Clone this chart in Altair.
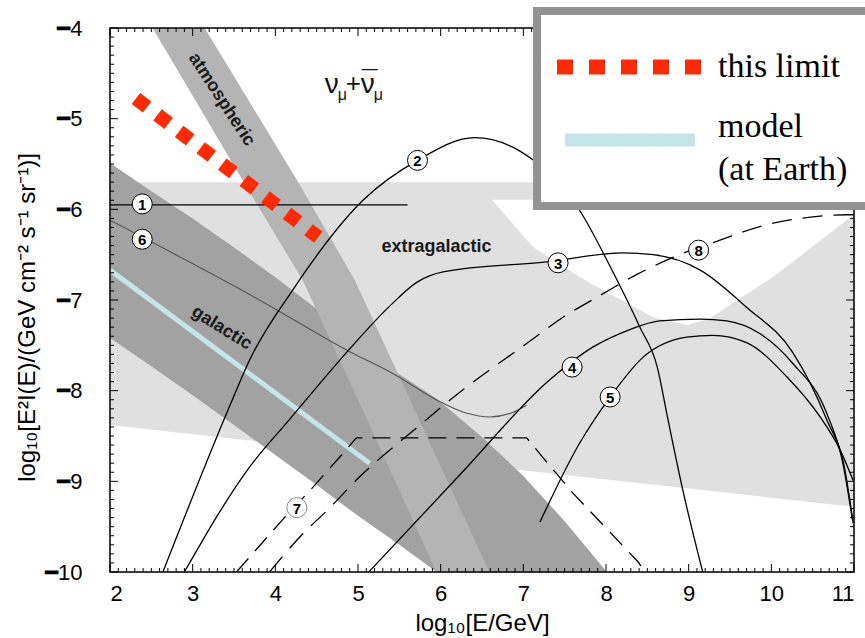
import altair as alt
import pandas as pd

# ---------------------------------------------------------------- layout
W, H = 744, 544
RED = "#ff2a00"
BLUE = "#c4e4e8"
LIGHT = "#e0e0e0"
ATM = "#b4b4b4"
DARK = "#a2a2a2"
FRAME_GRAY = "#939393"

# ---------------------------------------------------------------- shaded regions
# extragalactic band (light gray)
egal_x = [2.0, 11.0]
egal_lo = [-8.38, -9.28]
egal_hi = [-5.70, -5.70]

# white notch cut into the extragalactic band
notch_x = [6.62, 7.115, 7.684, 7.84, 8.25, 8.57, 8.99, 9.26, 9.54, 10.02, 10.92, 11.0]
notch_lo = [-5.895, -6.414, -6.745, -6.833, -7.03, -7.19, -7.275, -7.20, -7.03, -6.745, -6.116, -6.08]
notch_hi = [-5.895] * len(notch_x)

# galactic band (dark gray)
gal_x = [2.0, 2.5, 3.0, 3.5, 4.0, 4.5, 5.0, 5.5, 5.95, 6.5, 7.0, 7.5, 8.01]
gal_lo = [-7.42, -7.73, -8.05, -8.38, -8.71, -9.04, -9.38, -9.70, -10.0, -10.0, -10.0, -10.0, -10.0]
gal_hi = [-5.49, -5.80, -6.10, -6.42, -6.75, -7.10, -7.47, -7.82, -8.09, -8.51, -8.94, -9.44, -10.0]

# atmospheric band (medium gray), edges given per flux level
atm_y = [-4.0, -5.675, -6.78, -8.38, -10.0]
atm_left = [2.515, 3.60, 4.33, 5.14, 5.95]
atm_right = [3.145, 4.26, 4.96, 5.77, 6.59]

# ---------------------------------------------------------------- lines
limit_x = [2.314, 4.519]
limit_y = [-4.778, -6.306]

model_x = [2.0, 5.14]
model_y = [-6.67, -8.80]

c1_x = [2.0, 5.60]
c1_y = [-5.95, -5.95]

c2_x = [2.64, 3.48, 3.69, 4.21, 5.06, 5.72, 6.41, 7.11, 7.68, 8.05, 8.41, 8.62, 8.75, 8.93, 9.17]
c2_y = [-10.0, -8.10, -7.66, -6.89, -5.90, -5.46, -5.21, -5.45, -6.01, -6.63, -7.30, -7.74, -8.32, -9.10, -10.0]

c3_x = [2.90, 3.69, 4.17, 4.86, 5.38, 5.72, 6.03, 7.28, 8.20, 8.57, 9.14, 9.70, 10.26, 10.67, 10.89, 10.99]
c3_y = [-10.0, -8.84, -8.32, -7.58, -7.07, -6.80, -6.69, -6.58, -6.48, -6.50, -6.67, -7.08, -7.58, -8.32, -8.875, -9.46]

c4_x = [5.13, 6.23, 7.32, 7.84, 8.25, 8.65, 9.14, 9.46, 9.86, 10.26, 10.67, 10.87, 10.98]
c4_y = [-10.0, -8.93, -7.88, -7.52, -7.34, -7.23, -7.21, -7.23, -7.37, -7.70, -8.25, -8.82, -9.42]

c5_x = [7.20, 7.68, 8.05, 8.45, 8.98, 9.29, 9.70, 10.19, 10.59, 10.83, 10.99]
c5_y = [-9.45, -8.58, -8.07, -7.63, -7.41, -7.39, -7.47, -7.85, -8.29, -8.65, -8.99]

c6_x = [2.0, 3.77, 4.90, 5.42, 6.03, 6.32, 6.59, 6.87, 7.04]
c6_y = [-6.12, -6.98, -7.57, -7.81, -8.14, -8.25, -8.29, -8.24, -8.16]

c7_x = [3.53, 4.08, 4.42, 4.82, 4.98, 7.04, 7.23, 7.60, 8.39, 8.47]
c7_y = [-10.0, -9.43, -9.10, -8.69, -8.52, -8.52, -8.73, -9.13, -9.89, -10.0]

c8_x = [3.93, 4.29, 4.66, 5.02, 5.63, 6.27, 7.04, 7.48, 7.89, 8.37, 8.81, 9.38, 9.86, 10.35, 10.92, 11.0]
c8_y = [-10.0, -9.62, -9.29, -8.95, -8.47, -7.99, -7.48, -7.19, -6.97, -6.72, -6.53, -6.34, -6.19, -6.10, -6.06, -6.06]

# numbered markers on the model curves
tag_text = ["1", "2", "3", "4", "5", "6", "7", "8"]
tag_x = [2.39, 5.72, 7.42, 7.59, 8.05, 2.39, 4.26, 9.12]
tag_y = [-5.94, -5.46, -6.59, -7.74, -8.07, -6.33, -9.29, -6.45]
tag_ring = ["black", "black", "black", "black", "black", "black", "#8a8a8a", "black"]

# region names
region_text = ["atmospheric", "galactic", "extragalactic"]
region_x = [3.35, 3.35, 5.95]
region_y = [-4.79, -7.31, -6.41]
region_angle = [57, 32, 0]

# legend
legend_names = ["this limit", "model"]
legend_paths = ["M-1.326,0H4.935", "M-0.978,0.565H4.674"]

# axis ticks
x_major = list(range(2, 12))
y_major = list(range(-10, -3))
x_minor = [round(2 + 0.1 * i, 1) for i in range(91) if i % 10]
y_minor = [round(-10 + 0.1 * i, 1) for i in range(61) if i % 10]

# ---------------------------------------------------------------- encodings
xscale = alt.Scale(domain=[2, 11], nice=False, zero=False)
yscale = alt.Scale(domain=[-10, -4], nice=False, zero=False)

xaxis = alt.Axis(
    values=x_major, ticks=False, domain=False, grid=False,
    labelFont="Liberation Sans", labelFontSize=22, labelColor="black", labelPadding=11,
    title="log₁₀[E/GeV]", titleFont="Liberation Sans", titleFontSize=24,
    titleFontWeight="normal", titleColor="black", titleY=58, titleBaseline="alphabetic",
)
yaxis = alt.Axis(
    values=y_major, ticks=False, domain=False, grid=False,
    labelFont="Liberation Sans", labelFontSize=22, labelColor="black", labelPadding=28,
    labelExpr="'━' + format(abs(datum.value), 'd')",
    title="log₁₀[E²I(E)/(GeV cm⁻² s⁻¹ sr⁻¹)]", titleFont="Liberation Sans", titleFontSize=24,
    titleFontWeight="normal", titleColor="black", titleAngle=270,
    titleX=-76, titleY=289, titleAlign="center", titleBaseline="alphabetic",
)

X = alt.X("x:Q", scale=xscale, axis=xaxis)
Y = alt.Y("y:Q", scale=yscale, axis=yaxis)


def frame(xs, ys):
    return pd.DataFrame({"x": xs, "y": ys})


def band(xs, lo, hi):
    return pd.DataFrame({"x": xs, "y": lo, "y2": hi})


def curve(xs, ys, color="black", width=1.3, dash=None, interp="monotone"):
    kw = dict(color=color, strokeWidth=width, clip=True, interpolate=interp)
    if dash:
        kw["strokeDash"] = dash
    return alt.Chart(frame(xs, ys)).mark_line(**kw).encode(x=X, y=Y, order="x:Q")


layers = []

# shaded regions
layers.append(alt.Chart(band(egal_x, egal_lo, egal_hi)).mark_area(color=LIGHT, clip=True)
              .encode(x=X, y=Y, y2="y2:Q"))
layers.append(alt.Chart(band(notch_x, notch_lo, notch_hi)).mark_area(color="white", clip=True)
              .encode(x=X, y=Y, y2="y2:Q"))
layers.append(alt.Chart(band(gal_x, gal_lo, gal_hi)).mark_area(color=DARK, clip=True)
              .encode(x=X, y=Y, y2="y2:Q"))
atm_df = pd.DataFrame({"y": atm_y, "x": atm_left, "x2": atm_right})
layers.append(alt.Chart(atm_df).mark_area(color=ATM, orient="horizontal", clip=True)
              .encode(y=Y, x=X, x2="x2:Q"))

# model spectrum at Earth
layers.append(curve(model_x, model_y, color=BLUE, width=5, interp="linear"))

# model curves
layers.append(curve(c1_x, c1_y, interp="linear"))
layers.append(curve(c6_x, c6_y, color="#555555", width=1.1))
layers.append(curve(c2_x, c2_y))
layers.append(curve(c3_x, c3_y))
layers.append(curve(c4_x, c4_y))
layers.append(curve(c5_x, c5_y))
layers.append(curve(c7_x, c7_y, dash=[18, 10], interp="linear"))
layers.append(curve(c8_x, c8_y, dash=[20, 11]))

# upper limit
layers.append(curve(limit_x, limit_y, color=RED, width=14, dash=[14, 13.1], interp="linear"))

# numbered tags
tags = pd.DataFrame({"x": tag_x, "y": tag_y, "t": tag_text, "ring": tag_ring})
layers.append(alt.Chart(tags).mark_point(shape="circle", filled=False, fill="white",
                                         fillOpacity=1, size=400, strokeWidth=1, opacity=1)
              .encode(x=X, y=Y, stroke=alt.Stroke("ring:N", scale=None)))
layers.append(alt.Chart(tags).mark_text(font="Liberation Sans", fontSize=15, fontWeight="bold",
                                        color="black", baseline="middle", align="center", dy=1)
              .encode(x=X, y=Y, text="t:N"))

# region names
regions = pd.DataFrame({"x": region_x, "y": region_y, "t": region_text, "a": region_angle})
layers.append(alt.Chart(regions).mark_text(font="Liberation Sans", fontSize=18, fontWeight="bold",
                                           color="#1a1a1a", baseline="middle", align="center")
              .encode(x=X, y=Y, text="t:N", angle=alt.Angle("a:Q", scale=None)))

# nu_mu + anti-nu_mu (bar over the second nu drawn as a short dash)
nu = frame([4.597], [-4.714])
for txt, size, dx, dy in [("ν", 28, 0, 0), ("μ", 16, 13, 7), ("+", 26, 21, -1),
                          ("ν", 28, 36, 0), ("—", 16, 37, -19), ("μ", 16, 49, 7)]:
    layers.append(alt.Chart(nu).mark_text(text=txt, font="Liberation Sans", fontSize=size,
                                          color="#111111", align="left", baseline="alphabetic",
                                          dx=dx, dy=dy)
                  .encode(x=X, y=Y))


# inward tick marks on all four sides
def tick_layer(values, side, length):
    df = pd.DataFrame({"x": values, "y": values})
    m = alt.Chart(df).mark_rule(color="black", strokeWidth=1)
    if side == "bottom":
        return m.encode(x=X, y=alt.value(H), y2=alt.value(H - length))
    if side == "top":
        return m.encode(x=X, y=alt.value(0), y2=alt.value(length))
    if side == "left":
        return m.encode(y=Y, x=alt.value(0), x2=alt.value(length))
    return m.encode(y=Y, x=alt.value(W), x2=alt.value(W - length))


for side in ["bottom", "top"]:
    layers.append(tick_layer(x_minor, side, 4))
    layers.append(tick_layer(x_major, side, 8))
for side in ["left", "right"]:
    layers.append(tick_layer(y_minor, side, 4))
    layers.append(tick_layer(y_major, side, 8))

# plot frame
one = pd.DataFrame({"k": [0]})
layers.append(alt.Chart(one).mark_rect(fillOpacity=0, stroke="black", strokeWidth=1.5)
              .encode(x=alt.value(0), x2=alt.value(W), y=alt.value(0), y2=alt.value(H)))

# legend box (white panel with a heavy gray border)
layers.append(alt.Chart(one).mark_rect(fill="white", stroke=FRAME_GRAY, strokeWidth=8, clip=False)
              .encode(x=alt.value(427), x2=alt.value(W + 60), y=alt.value(-17), y2=alt.value(178)))

# legend entries (drawn by the legend only; the anchor points sit outside the domain)
leg_df = pd.DataFrame({"series": legend_names, "x": [20.0, 20.0], "y": [-20.0, -20.0]})
layers.append(
    alt.Chart(leg_df).mark_point(filled=False, opacity=1, clip=True).encode(
        x=X, y=Y,
        shape=alt.Shape("series:N", scale=alt.Scale(domain=legend_names, range=legend_paths)),
        color=alt.Color("series:N", scale=alt.Scale(domain=legend_names, range=[RED, BLUE]),
                        legend=alt.Legend(
                            title=None, orient="none", legendX=427, legendY=-11.5,
                            padding=20, symbolSize=2116,
                            labelFont="Liberation Serif", labelFontSize=34,
                            labelColor="black", labelOffset=100, labelLimit=400,
                            rowPadding=0,
                            labelExpr="datum.label == 'model' ? ['model', '(at Earth)'] : datum.label",
                        )),
        strokeDash=alt.StrokeDash("series:N",
                                  scale=alt.Scale(domain=legend_names, range=[[16, 16], [1, 0]])),
        strokeWidth=alt.StrokeWidth("series:N",
                                    scale=alt.Scale(domain=legend_names, range=[15, 13])),
    )
)

chart = alt.layer(*layers).properties(
    width=W, height=H,
    padding={"left": 110, "top": 28, "right": 11, "bottom": 66},
    autosize=alt.AutoSizeParams(type="none"),
).configure_view(strokeWidth=0).configure(
    font="Liberation Sans", background="white",
    style={"guide-label": {"lineHeight": 43}},
)

chart.save("out.html", embed_options={"renderer": "svg", "actions": False})
